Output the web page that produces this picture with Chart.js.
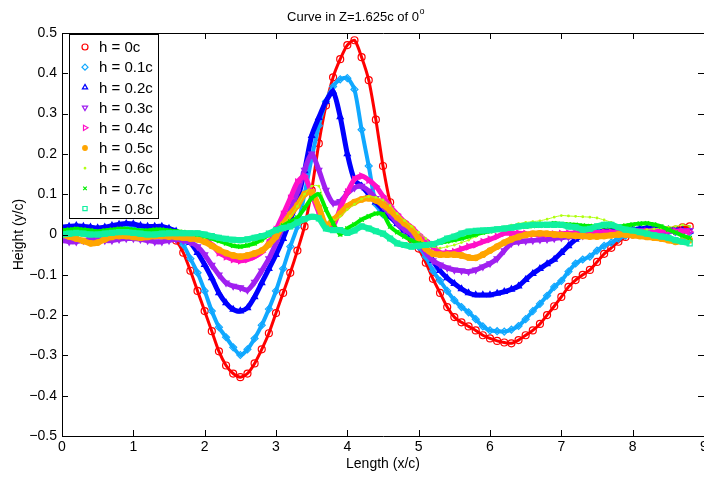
<!DOCTYPE html>
<html>
<head>
<meta charset="utf-8">
<script src="https://cdn.jsdelivr.net/npm/chart.js@4.4.0/dist/chart.umd.min.js"></script>
<style>
html, body { margin: 0; padding: 0; overflow: hidden; background: #fff; }
#wrap { width: 760px; height: 480px; }
</style>
</head>
<body>
<div id="wrap"><canvas id="curve-chart" width="760" height="480"></canvas></div>
<script>
// x/c positions, every 0.1c from 0 to 8.8c
var xVals = [];
for (var i = 0; i <= 88; i++) xVals.push(i / 10);

var xTicks = [0, 1, 2, 3, 4, 5, 6, 7, 8, 9];
var xTickLabels = ['0', '1', '2', '3', '4', '5', '6', '7', '8', '9'];
var yTicks = [-0.5, -0.4, -0.3, -0.2, -0.1, 0, 0.1, 0.2, 0.3, 0.4, 0.5];
var yTickLabels = ['\u22120.5', '\u22120.4', '\u22120.3', '\u22120.2', '\u22120.1', '0', '0.1', '0.2', '0.3', '0.4', '0.5'];

var seriesNames = ['h = 0c', 'h = 0.1c', 'h = 0.2c', 'h = 0.3c', 'h = 0.4c', 'h = 0.5c', 'h = 0.6c', 'h = 0.7c', 'h = 0.8c'];

var h00 = [0.005, 0.008, 0.01, 0.008, 0.005, 0.005, 0.008, 0.01, 0.012, 0.012,
  0.01, 0.008, 0.008, 0.01, 0.008, 0.0, -0.015, -0.045, -0.09, -0.14,
  -0.19, -0.24, -0.29, -0.325, -0.345, -0.354, -0.345, -0.32, -0.285, -0.245,
  -0.195, -0.145, -0.095, -0.04, 0.02, 0.11, 0.226, 0.32, 0.39, 0.435,
  0.47, 0.482, 0.44, 0.383, 0.285, 0.17, 0.08, 0.035, 0.005, -0.012,
  -0.035, -0.07, -0.11, -0.145, -0.18, -0.205, -0.218, -0.228, -0.238, -0.25,
  -0.258, -0.264, -0.268, -0.27, -0.262, -0.25, -0.238, -0.222, -0.2, -0.178,
  -0.155, -0.13, -0.113, -0.1, -0.088, -0.068, -0.048, -0.033, -0.018, -0.006,
  0.0, 0.003, 0.005, 0.006, 0.008, 0.01, 0.012, 0.018, 0.02];
var h01 = [0.012, 0.014, 0.016, 0.014, 0.012, 0.01, 0.012, 0.015, 0.018, 0.018,
  0.016, 0.014, 0.012, 0.012, 0.012, 0.008, 0.0, -0.025, -0.06, -0.095,
  -0.14, -0.19, -0.23, -0.255, -0.28, -0.299, -0.285, -0.258, -0.225, -0.185,
  -0.14, -0.085, -0.03, 0.02, 0.1, 0.19, 0.27, 0.33, 0.367, 0.385,
  0.388, 0.36, 0.26, 0.17, 0.075, 0.05, 0.045, 0.03, 0.01, -0.01,
  -0.03, -0.055, -0.09, -0.115, -0.14, -0.163, -0.18, -0.193, -0.21, -0.228,
  -0.238, -0.24, -0.241, -0.236, -0.227, -0.21, -0.19, -0.172, -0.152, -0.13,
  -0.115, -0.092, -0.072, -0.062, -0.055, -0.04, -0.028, -0.02, -0.01, -0.003,
  0.002, 0.004, 0.006, 0.008, 0.008, 0.008, 0.006, 0.006, 0.005];
var h02 = [0.018, 0.02, 0.022, 0.02, 0.018, 0.016, 0.018, 0.022, 0.025, 0.027,
  0.026, 0.022, 0.02, 0.02, 0.02, 0.015, 0.008, -0.005, -0.02, -0.045,
  -0.075, -0.108, -0.145, -0.17, -0.186, -0.19, -0.182, -0.155, -0.12, -0.085,
  -0.05, -0.01, 0.036, 0.085, 0.158, 0.245, 0.29, 0.33, 0.355, 0.292,
  0.2, 0.135, 0.12, 0.1, 0.08, 0.062, 0.044, 0.026, 0.01, 0.0,
  -0.005, -0.03, -0.065, -0.09, -0.108, -0.122, -0.135, -0.145, -0.15, -0.15,
  -0.15, -0.146, -0.142, -0.136, -0.128, -0.112, -0.097, -0.085, -0.073, -0.062,
  -0.045, -0.028, -0.012, -0.003, 0.003, 0.006, 0.008, 0.01, 0.01, 0.012,
  0.012, 0.014, 0.016, 0.016, 0.014, 0.012, 0.012, 0.01, 0.008];
var h03 = [-0.015, -0.018, -0.018, -0.015, -0.012, -0.012, -0.015, -0.015, -0.012, -0.01,
  -0.01, -0.012, -0.015, -0.018, -0.018, -0.015, -0.012, -0.015, -0.02, -0.03,
  -0.05, -0.076, -0.1, -0.12, -0.128, -0.132, -0.138, -0.118, -0.09, -0.06,
  -0.022, 0.02, 0.061, 0.105, 0.16, 0.2, 0.16, 0.11, 0.078, 0.082,
  0.102, 0.116, 0.12, 0.108, 0.09, 0.07, 0.05, 0.028, 0.012, 0.0,
  -0.02, -0.045, -0.065, -0.075, -0.083, -0.088, -0.09, -0.092, -0.088, -0.08,
  -0.072, -0.06, -0.04, -0.022, -0.018, -0.016, -0.015, -0.013, -0.012, -0.01,
  -0.008, -0.006, -0.004, -0.003, -0.002, 0.0, 0.002, 0.004, 0.006, 0.008,
  0.008, 0.01, 0.01, 0.01, 0.008, 0.008, 0.008, 0.01, 0.01];
var h04 = [0.0, 0.002, 0.005, 0.005, 0.002, 0.0, 0.0, 0.004, 0.006, 0.006,
  0.004, 0.002, 0.002, 0.004, 0.004, 0.002, 0.0, -0.002, -0.004, -0.006,
  -0.012, -0.025, -0.045, -0.055, -0.062, -0.065, -0.062, -0.055, -0.044, -0.02,
  0.012, 0.05, 0.09, 0.13, 0.145, 0.1, 0.055, 0.022, 0.02, 0.065,
  0.105, 0.137, 0.145, 0.135, 0.12, 0.095, 0.07, 0.05, 0.032, 0.018,
  0.0, -0.015, -0.03, -0.045, -0.045, -0.043, -0.036, -0.03, -0.025, -0.018,
  -0.012, -0.005, 0.003, 0.003, 0.003, 0.002, 0.0, 0.0, 0.0, 0.001,
  0.002, 0.003, 0.004, 0.004, 0.005, 0.005, 0.006, 0.006, 0.006, 0.006,
  0.006, 0.006, 0.008, 0.008, 0.01, 0.01, 0.008, 0.008, 0.006];
var h05 = [0.0, -0.005, -0.01, -0.016, -0.022, -0.02, -0.012, -0.006, -0.004, -0.004,
  -0.006, -0.008, -0.006, -0.004, -0.004, -0.005, -0.006, -0.008, -0.01, -0.012,
  -0.018, -0.028, -0.038, -0.046, -0.052, -0.055, -0.052, -0.047, -0.04, -0.025,
  -0.005, 0.025, 0.05, 0.072, 0.1, 0.105, 0.068, 0.022, 0.036, 0.052,
  0.07, 0.08, 0.087, 0.09, 0.085, 0.074, 0.06, 0.043, 0.028, 0.014,
  -0.01, -0.035, -0.048, -0.05, -0.05, -0.05, -0.052, -0.057, -0.058, -0.05,
  -0.04, -0.03, -0.02, -0.012, -0.006, -0.001, 0.002, 0.003, 0.002, 0.0,
  -0.001, -0.002, -0.003, -0.004, -0.005, -0.005, -0.004, -0.002, 0.0, 0.0,
  -0.002, -0.004, -0.006, -0.008, -0.01, -0.014, -0.018, -0.016, -0.014];
var h06 = [0.008, 0.01, 0.01, 0.008, 0.006, 0.006, 0.008, 0.01, 0.012, 0.012,
  0.01, 0.008, 0.008, 0.01, 0.01, 0.008, 0.006, 0.004, 0.0, -0.004,
  -0.008, -0.012, -0.018, -0.024, -0.03, -0.032, -0.03, -0.025, -0.018, -0.005,
  0.01, 0.025, 0.045, 0.07, 0.1, 0.12, 0.12, 0.065, 0.036, 0.045,
  0.062, 0.075, 0.088, 0.094, 0.092, 0.086, 0.072, 0.052, 0.035, 0.02,
  0.005, -0.01, -0.03, -0.034, -0.03, -0.026, -0.02, -0.014, -0.005, 0.003,
  0.008, 0.014, 0.019, 0.023, 0.027, 0.03, 0.032, 0.034, 0.038, 0.043,
  0.047, 0.046, 0.045, 0.044, 0.043, 0.041, 0.036, 0.03, 0.018, 0.012,
  0.01, 0.01, 0.012, 0.014, 0.016, 0.018, 0.02, 0.024, 0.02];
var h07 = [0.01, 0.012, 0.014, 0.012, 0.01, 0.008, 0.01, 0.012, 0.014, 0.014,
  0.012, 0.01, 0.01, 0.012, 0.012, 0.01, 0.008, 0.006, 0.003, 0.0,
  -0.004, -0.01, -0.016, -0.022, -0.028, -0.03, -0.027, -0.022, -0.012, 0.0,
  0.011, 0.022, 0.032, 0.042, 0.065, 0.09, 0.1, 0.062, 0.028, 0.0,
  0.015, 0.025, 0.037, 0.045, 0.052, 0.05, 0.02, 0.006, -0.005, -0.015,
  -0.022, -0.024, -0.022, -0.02, -0.017, -0.014, -0.01, -0.005, 0.0, 0.005,
  0.008, 0.012, 0.015, 0.018, 0.02, 0.02, 0.021, 0.022, 0.025, 0.028,
  0.026, 0.025, 0.024, 0.022, 0.021, 0.02, 0.02, 0.02, 0.02, 0.022,
  0.025, 0.027, 0.028, 0.025, 0.02, 0.012, 0.005, -0.003, -0.009];
var h08 = [0.0, 0.002, 0.004, 0.002, 0.0, 0.0, 0.002, 0.004, 0.006, 0.006,
  0.004, 0.002, 0.0, 0.0, 0.002, 0.003, 0.003, 0.003, 0.003, 0.003,
  0.0, -0.004, -0.008, -0.011, -0.013, -0.014, -0.012, -0.008, -0.004, 0.002,
  0.011, 0.016, 0.02, 0.03, 0.038, 0.044, 0.04, 0.015, 0.011, 0.011,
  0.004, 0.01, 0.02, 0.015, 0.008, 0.002, -0.01, -0.022, -0.026, -0.03,
  -0.028, -0.026, -0.024, -0.018, -0.01, -0.005, 0.002, 0.007, 0.009, 0.01,
  0.011, 0.013, 0.015, 0.017, 0.02, 0.022, 0.024, 0.024, 0.024, 0.024,
  0.024, 0.02, 0.018, 0.012, 0.014, 0.02, 0.024, 0.024, 0.018, 0.012,
  0.01, 0.006, 0.002, -0.002, -0.005, -0.008, -0.014, -0.018, -0.022];

var seriesValues = [h00, h01, h02, h03, h04, h05, h06, h07, h08];

// marker look per series (MATLAB o, d, ^, v, >, ., ., x, s)
var seriesColors = ['#ff0000', '#10a8ff', '#0000ff', '#a020f0', '#ff10c8', '#ffa500', '#b0ff10', '#00ee00', '#10f0a0'];
var seriesStyle = [
  { shape: 'circle', rot: 0, r: 3.5, filled: false, lw: 3 },
  { shape: 'rectRot', rot: 0, r: 3.5, filled: false, lw: 4 },
  { shape: 'triangle', rot: 0, r: 3.5, filled: false, lw: 5 },
  { shape: 'triangle', rot: 180, r: 3.5, filled: false, lw: 5 },
  { shape: 'triangle', rot: 90, r: 3.5, filled: false, lw: 5 },
  { shape: 'circle', rot: 0, r: 2.8, filled: true, lw: 6 },
  { shape: 'circle', rot: 0, r: 0.8, filled: true, lw: 1 },
  { shape: 'crossRot', rot: 0, r: 3, filled: false, lw: 4 },
  { shape: 'rect', rot: 0, r: 3.5, filled: false, lw: 6 }
];

var datasets = seriesValues.map(function (vals, k) {
  var st = seriesStyle[k];
  return {
    label: seriesNames[k],
    data: vals.map(function (v, i) { return { x: xVals[i], y: v }; }),
    borderColor: seriesColors[k],
    borderWidth: st.lw,
    backgroundColor: seriesColors[k],
    pointStyle: st.shape,
    pointRotation: st.rot,
    pointRadius: st.r,
    pointBorderWidth: 1.2,
    pointBackgroundColor: st.filled ? seriesColors[k] : 'rgba(0,0,0,0)',
    pointBorderColor: seriesColors[k],
    tension: 0.25,
    fill: false,
    order: 8 - k
  };
});

var FONT = '"Liberation Sans", Arial, Helvetica, sans-serif';

// box, inward ticks, legend and titles the MATLAB way
var matlabAxes = {
  id: 'matlabAxes',
  afterDraw: function (chart) {
    var ctx = chart.ctx, a = chart.chartArea;
    var xs = chart.scales.x, ys = chart.scales.y;
    ctx.save();
    ctx.strokeStyle = '#000';
    ctx.lineWidth = 1;
    ctx.beginPath();
    ctx.rect(a.left + 0.5, a.top + 0.5, a.right - a.left, a.bottom - a.top);
    xTicks.forEach(function (v) {
      var px = Math.round(xs.getPixelForValue(v)) + 0.5;
      ctx.moveTo(px, a.bottom); ctx.lineTo(px, a.bottom - 6);
      ctx.moveTo(px, a.top); ctx.lineTo(px, a.top + 6);
    });
    yTicks.forEach(function (v) {
      var py = Math.round(ys.getPixelForValue(v)) + 0.5;
      ctx.moveTo(a.left, py); ctx.lineTo(a.left + 6, py);
      ctx.moveTo(a.right, py); ctx.lineTo(a.right - 6, py);
    });
    ctx.stroke();

    // legend
    var lx = 69, ly = 34, lw = 89, lh = 184;
    ctx.fillStyle = '#fff';
    ctx.fillRect(lx, ly, lw, lh);
    ctx.strokeRect(lx + 0.5, ly + 0.5, lw, lh);
    ctx.font = '15px ' + FONT;
    ctx.textBaseline = 'middle';
    ctx.textAlign = 'left';
    chart.data.datasets.forEach(function (ds, k) {
      var yy = 47 + k * 20.2;
      var st = seriesStyle[k];
      ctx.strokeStyle = seriesColors[k];
      ctx.fillStyle = st.filled ? seriesColors[k] : 'rgba(0,0,0,0)';
      ctx.lineWidth = 1.2;
      Chart.helpers.drawPoint(ctx, { pointStyle: st.shape, rotation: st.rot, radius: Math.max(st.r - 0.5, 0.8), borderWidth: 1.2 }, 85, yy);
      ctx.fillStyle = '#000';
      ctx.fillText(ds.label, 99, yy + 1);
    });

    // title with superscript degree
    ctx.fillStyle = '#000';
    ctx.font = '13px ' + FONT;
    ctx.textAlign = 'left';
    ctx.textBaseline = 'alphabetic';
    var t = 'Curve in Z=1.625c of 0';
    var tw = ctx.measureText(t).width;
    var tx = 356 - (tw + 6) / 2;
    ctx.fillText(t, tx, 21);
    ctx.font = '9px ' + FONT;
    ctx.fillText('o', tx + tw + 0.5, 14);

    ctx.font = '14px ' + FONT;
    ctx.textAlign = 'center';
    ctx.textBaseline = 'middle';
    ctx.fillText('Length (x/c)', (a.left + a.right) / 2, 464);
    ctx.translate(19, (a.top + a.bottom) / 2);
    ctx.rotate(-Math.PI / 2);
    ctx.fillText('Height (y/c)', 0, 0);
    ctx.restore();
  }
};

var ctx = document.getElementById('curve-chart').getContext('2d');
var myChart = new Chart(ctx, {
  type: 'line',
  data: { datasets: datasets },
  plugins: [matlabAxes],
  options: {
    responsive: false,
    animation: false,
    devicePixelRatio: 1,
    layout: { padding: { top: 33, right: 56, left: 0, bottom: 0 } },
    plugins: { legend: { display: false }, tooltip: { enabled: false }, title: { display: false } },
    scales: {
      x: {
        type: 'linear', min: 0, max: 9,
        grid: { display: false, drawTicks: false }, border: { display: false },
        afterBuildTicks: function (s) { s.ticks = xTicks.map(function (v) { return { value: v }; }); },
        afterFit: function (s) { s.height = 44; },
        ticks: {
          padding: 3, color: '#000', maxRotation: 0, autoSkip: false,
          font: { family: FONT, size: 14 },
          callback: function (v, i) { return xTickLabels[i]; }
        }
      },
      y: {
        min: -0.5, max: 0.5,
        grid: { display: false, drawTicks: false }, border: { display: false },
        afterBuildTicks: function (s) { s.ticks = yTicks.map(function (v) { return { value: v }; }); },
        afterFit: function (s) { s.width = 62; },
        ticks: {
          padding: 5, color: '#000', autoSkip: false,
          font: { family: FONT, size: 14 },
          callback: function (v, i) { return yTickLabels[i]; }
        }
      }
    }
  }
});
</script>
</body>
</html>
